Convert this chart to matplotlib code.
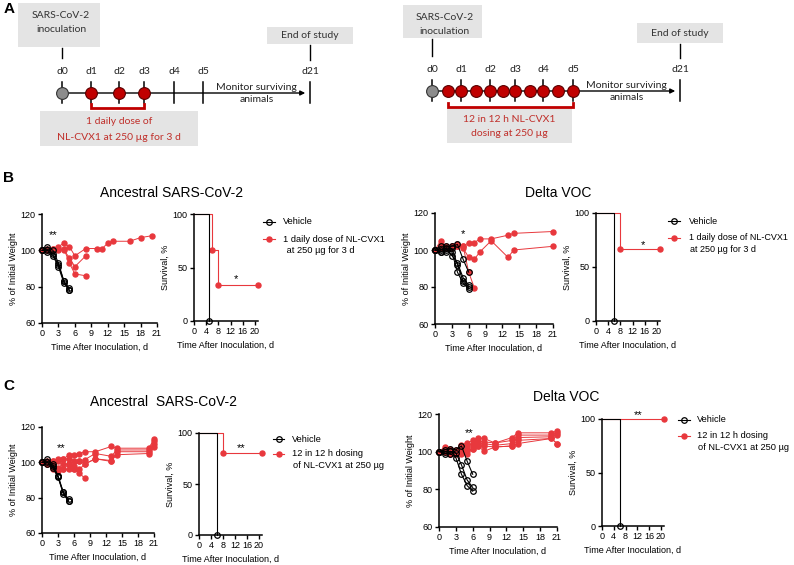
import numpy as np
import matplotlib
matplotlib.use("Agg")
import matplotlib.pyplot as plt
from matplotlib.patches import Rectangle

plt.rcParams['font.family'] = ['Liberation Sans', 'DejaVu Sans']

W, H = 794, 565
RED = '#e8383d'
DARKRED = '#c00000'
TXTRED = '#c0302b'
BOXGRAY = '#e4e4e4'

# ---------------- data ----------------
# panel A timelines
a1_labels = ['d0', 'd1', 'd2', 'd3', 'd4', 'd5', 'd21']
a2_labels = ['d0', 'd1', 'd2', 'd3', 'd4', 'd5', 'd21']

# B ancestral weight (% of initial)
b_anc_veh_days = [0, 1, 2, 3, 4, 5]
b_anc_veh = [[100, 102, 100, 93, 83, 79],
             [100, 99, 98, 92, 83, 78],
             [100, 100, 97, 91, 82, 78]]
b_anc_trt_days = [[0, 1, 2, 3, 4, 5, 6, 8, 10, 11, 12, 13, 16, 18, 20],
                  [0, 1, 2, 3, 4, 5, 6, 8],
                  [0, 1, 2, 3, 4, 5, 6, 8]]
b_anc_trt = [[100, 100, 101, 102, 104, 102, 97, 101, 101, 101, 104, 105, 105, 107, 108],
             [100, 101, 100, 101, 100, 96, 91, 97],
             [100, 100, 101, 100, 101, 93, 87, 86]]

# B delta weight
b_del_veh_days = [0, 1, 2, 3, 4, 5, 6]
b_del_veh = [[100, 102, 102, 102, 103, 95, 88],
             [100, 100, 101, 97, 93, 85, 81],
             [100, 99, 100, 99, 88, 82, 79],
             [100, 99, 99, 101, 92, 83, 80]]
b_del_trt_days = [[0, 1, 2, 3, 4, 5, 6, 7, 8, 10, 13, 14, 21],
                  [0, 1, 2, 3, 4, 5, 6, 7, 8, 10, 13, 14, 21],
                  [0, 1, 2, 3, 4, 5, 6, 7]]
b_del_trt = [[100, 105, 102, 102, 103, 102, 104, 104, 106, 106, 108, 109, 110],
             [100, 101, 101, 101, 102, 101, 96, 95, 99, 105, 96, 100, 102],
             [100, 102, 101, 102, 102, 102, 88, 79.5]]

# C ancestral weight
c_anc_veh_days = [0, 1, 2, 3, 4, 5]
c_anc_veh = [[100, 102, 99, 92.5, 83, 79],
             [100, 100, 97, 91.5, 83, 78],
             [100, 99, 98, 92, 82, 78]]
c_trt_days_full = [0, 1, 2, 3, 4, 5, 6, 7, 8, 10, 13, 14, 20, 21]
c_anc_trt_days = [c_trt_days_full, c_trt_days_full, c_trt_days_full, c_trt_days_full,
                  [0, 1, 2, 3, 4, 5, 6, 7, 8]]
c_anc_trt = [[100, 101, 101, 102, 102, 104, 104, 105, 106, 106, 109, 108, 108, 113],
             [100, 100, 101, 101, 102, 102, 101, 101, 101.5, 105, 103.4, 107, 107, 112],
             [100, 100, 99, 97, 99, 99, 98, 101, 99, 102, 100.5, 106, 106, 110.5],
             [100, 99, 97, 96, 96, 96, 96, 96, 99, 102, 101, 104.3, 105, 108.5],
             [100, 99, 96, 95, 96, 99, 96, 94, 91]]

# C delta weight
c_del_veh_days = [0, 1, 2, 3, 4, 5, 6]
c_del_veh = [[100, 101, 101.6, 101, 103, 95, 88],
             [100, 100, 100.2, 99.3, 93, 85, 81],
             [100, 99, 99, 96.8, 88, 82, 79]]
c_del_trt_days = [c_trt_days_full] * 5
c_del_trt = [[100, 102.5, 101.6, 101, 103.8, 104.6, 106, 107.3, 107, 104.6, 107.5, 110, 110, 111],
             [100, 101, 99.8, 99.8, 101.6, 103.4, 104.3, 105.7, 105.2, 104.6, 106, 108.8, 108.8, 110],
             [100, 99.8, 98.6, 98.6, 100.2, 101.6, 102.9, 104.3, 104.3, 103.4, 104.3, 107.5, 107.9, 109],
             [100, 101, 99.8, 100, 98.6, 100.2, 101.6, 103, 103, 102.5, 103, 106, 107, 104.3],
             [100, 99.8, 98.6, 99.8, 100.2, 99, 101.6, 103, 100.2, 102.5, 103, 104.3, 107, 104.3]]

# survival (%)
b_anc_surv_veh = ([0, 5], [100, 0])
b_anc_surv_trt = ([0, 6, 8, 21], [100, 66.7, 33.3, 33.3])
b_del_surv_veh = ([0, 6], [100, 0])
b_del_surv_trt = ([0, 8, 21], [100, 66.7, 66.7])
c_anc_surv_veh = ([0, 6], [100, 0])
c_anc_surv_trt = ([0, 8, 21], [100, 80, 80])
c_del_surv_veh = ([0, 6], [100, 0])
c_del_surv_trt = ([0, 21], [100, 100])

weight_xticks = [0, 3, 6, 9, 12, 15, 18, 21]
weight_yticks = [60, 80, 100, 120]
surv_xticks = [0, 4, 8, 12, 16, 20]
surv_yticks = [0, 50, 100]

# ---------------- figure ----------------
fig = plt.figure(figsize=(W / 100, H / 100), dpi=100)
ov = fig.add_axes([0, 0, 1, 1])
ov.set_xlim(0, W)
ov.set_ylim(H, 0)
ov.axis('off')


def px_axes(x0, y0, x1, y1):
    return fig.add_axes([x0 / W, 1 - y1 / H, (x1 - x0) / W, (y1 - y0) / H])


def style(ax, xt, yt, xlim, ylim):
    ax.set_xlim(*xlim)
    ax.set_ylim(*ylim)
    ax.set_xticks(xt)
    ax.set_yticks(yt)
    for s in ['top', 'right']:
        ax.spines[s].set_visible(False)
    for s in ['left', 'bottom']:
        ax.spines[s].set_linewidth(1.1)
    ax.tick_params(direction='out', length=3, width=1, labelsize=6.5, pad=1.5)
    ax.patch.set_alpha(0)


def weight_panel(rect, veh_days, veh, trt_days, trt):
    ax = px_axes(*rect)
    for d, w in zip(trt_days, trt):
        ax.plot(d, w, '-o', color=RED, lw=0.7, ms=3.6, mec=RED, clip_on=False, zorder=3)
    for w in veh:
        ax.plot(veh_days, w, '-o', color='k', lw=0.8, ms=4, mfc='none', mec='k',
                mew=0.9, clip_on=False, zorder=4)
    style(ax, weight_xticks, weight_yticks, (0, 21), (60, 120))
    ax.set_ylabel('% of Initial Weight', fontsize=6.5, labelpad=2)
    ax.set_xlabel('Time After Inoculation, d', fontsize=6.5, labelpad=3)
    return ax


def surv_panel(rect, veh, trt):
    ax = px_axes(*rect)
    ax.plot(trt[0], trt[1], color=RED, lw=0.8, drawstyle='steps-post', clip_on=False, zorder=3)
    ax.plot(trt[0][1:], trt[1][1:], 'o', color=RED, ms=3.6, clip_on=False, zorder=3)
    ax.plot(veh[0], veh[1], color='k', lw=0.8, drawstyle='steps-post', clip_on=False, zorder=4)
    ax.plot(veh[0][-1:], veh[1][-1:], 'o', ms=4, mfc='none', mec='k', mew=0.9,
            clip_on=False, zorder=5)
    style(ax, surv_xticks, surv_yticks, (0, 21), (0, 100))
    ax.set_ylabel('Survival, %', fontsize=6.5, labelpad=2)
    ax.set_xlabel('Time After Inoculation, d', fontsize=6.5, labelpad=3)
    return ax


LEG_FS = 6.7


def legend(x0, x1, tx, y_veh, y_trt, lines, fs=LEG_FS):
    ov.plot([x0, x1], [y_veh, y_veh], color='k', lw=0.8)
    ov.plot([(x0 + x1) / 2], [y_veh], 'o', ms=4, mfc='none', mec='k', mew=0.9)
    ov.text(tx, y_veh, 'Vehicle', fontsize=fs, va='center', ha='left')
    ov.plot([x0, x1], [y_trt, y_trt], color=RED, lw=0.8)
    ov.plot([(x0 + x1) / 2], [y_trt], 'o', ms=3.6, color=RED)
    ov.text(tx, y_trt, lines[0], fontsize=fs, va='center', ha='left')
    ov.text(tx + 1, y_trt + 11.5, lines[1], fontsize=fs, va='center', ha='left')


# ---------------- panel A ----------------
AF = ['Lato', 'DejaVu Sans']


def gray_box(x0, y0, x1, y1):
    ov.add_patch(Rectangle((x0, y0), x1 - x0, y1 - y0, color=BOXGRAY, lw=0, zorder=0))


def scheme(tick_x, labels, dose_x, y, box1, box2, br, dbox, dtext, mon_x):
    # inoculation box
    gray_box(*box1)
    cx = tick_x[0]
    ov.text((box1[0] + box1[2]) / 2 + 2, box1[1] + 12, 'SARS-CoV-2', family=AF,
            fontsize=7.5, ha='center', va='center', color='#333333')
    ov.text((box1[0] + box1[2]) / 2 + 2, box1[1] + 27, 'inoculation', family=AF,
            fontsize=7.5, ha='center', va='center', color='#333333')
    ov.plot([cx, cx], [box1[3] + 1, y - 35], color='k', lw=1)
    # end of study box
    gray_box(*box2)
    ov.text(tick_x[-1], (box2[1] + box2[3]) / 2, 'End of study', family=AF,
            fontsize=7.5, ha='center', va='center', color='#333333')
    ov.plot([tick_x[-1], tick_x[-1]], [box2[3] + 1, y - 33], color='k', lw=1)
    # timeline
    ov.annotate('', xy=(tick_x[-1] - 2, y), xytext=(tick_x[0], y),
                arrowprops=dict(arrowstyle='-|>', color='k', lw=1, mutation_scale=7))
    for tx, lab in zip(tick_x, labels):
        ov.plot([tx, tx], [y - 11, y + 10], color='k', lw=1.1)
        ov.text(tx, y - 22, lab, family=AF, fontsize=7.5, ha='center', va='center',
                color='#222222')
    ov.plot([tick_x[0]], [y], 'o', ms=8.5, mfc='#8c8c8c', mec='#333333', mew=0.8, zorder=5)
    ov.plot(dose_x, [y] * len(dose_x), 'o', ms=8.5, mfc=DARKRED, mec='#5a0000', mew=0.8,
            zorder=5)
    # bracket
    ov.plot([br[0], br[0], br[1], br[1]], [br[2] - 4, br[2], br[2], br[2] - 4],
            color=DARKRED, lw=2, solid_joinstyle='miter')
    gray_box(*dbox)
    cxd = (dbox[0] + dbox[2]) / 2
    ov.text(cxd, dbox[1] + 11, dtext[0], family=AF, fontsize=7.5, ha='center',
            va='center', color=TXTRED)
    ov.text(cxd, dbox[1] + 26, dtext[1], family=AF, fontsize=7.5, ha='center',
            va='center', color=TXTRED)
    ov.text(mon_x, y - 6, 'Monitor surviving', family=AF, fontsize=7.5, ha='center',
            va='center', color='#222222')
    ov.text(mon_x + 1, y + 7, 'animals', family=AF, fontsize=7.5, ha='center',
            va='center', color='#222222')


scheme([62, 91, 119, 144, 174, 203, 310], a1_labels, [91, 119, 144], 93,
       (18, 3, 100, 47), (267, 27, 353, 44), (91, 144, 108), (40, 111, 198, 146),
       ['1 daily dose of', 'NL-CVX1 at 250 µg for 3 d'], 256)
scheme([432, 461, 490, 515, 543, 573, 680], a2_labels,
       [448, 461, 476, 490, 503, 515, 530, 543, 558, 573], 91,
       (403, 5, 482, 38), (637, 23, 723, 43), (448, 573, 107), (447, 108, 572, 143),
       ['12 in 12 h NL-CVX1', 'dosing at 250 µg'], 626)

# panel letters
for lab, (x, y) in {'A': (9, 9), 'B': (9, 178), 'C': (9, 386)}.items():
    ov.text(x, y, lab, fontsize=11, fontweight='bold', ha='center', va='center')

# ---------------- panel B ----------------
weight_panel((42, 214, 157, 323), b_anc_veh_days, b_anc_veh, b_anc_trt_days, b_anc_trt)
surv_panel((194, 214, 258, 321), b_anc_surv_veh, b_anc_surv_trt)
weight_panel((435, 213, 553, 324), b_del_veh_days, b_del_veh, b_del_trt_days, b_del_trt)
surv_panel((596, 213, 660, 321), b_del_surv_veh, b_del_surv_trt)

ov.text(172, 193, 'Ancestral SARS-CoV-2', fontsize=10, ha='center', va='center')
ov.text(558, 193, 'Delta VOC', fontsize=10, ha='center', va='center')
legend(263, 275, 283, 222, 239, ['1 daily dose of NL-CVX1', ' at 250 µg for 3 d'])
legend(668, 680, 689, 221, 238, ['1 daily dose of NL-CVX1', 'at 250 µg for 3 d'], fs=6.5)
ov.text(53, 235, '**', fontsize=8, ha='center', va='center')
ov.text(236, 279, '*', fontsize=8, ha='center', va='center')
ov.text(463, 234, '*', fontsize=8, ha='center', va='center')
ov.text(643, 245, '*', fontsize=8, ha='center', va='center')

# ---------------- panel C ----------------
weight_panel((42, 427, 154, 533), c_anc_veh_days, c_anc_veh, c_anc_trt_days, c_anc_trt)
surv_panel((199, 433, 262, 535), c_anc_surv_veh, c_anc_surv_trt)
weight_panel((439, 414, 557, 527), c_del_veh_days, c_del_veh, c_del_trt_days, c_del_trt)
surv_panel((602, 419, 664, 526), c_del_surv_veh, c_del_surv_trt)

ov.text(164, 402, 'Ancestral  SARS-CoV-2', fontsize=10, ha='center', va='center')
ov.text(566, 397, 'Delta VOC', fontsize=10, ha='center', va='center')
legend(273, 284, 292, 439, 454, ['12 in 12 h dosing', 'of NL-CVX1 at 250 µg'])
legend(678, 690, 697, 420, 436, ['12 in 12 h dosing', 'of NL-CVX1 at 250 µg'])
ov.text(61, 448, '**', fontsize=8, ha='center', va='center')
ov.text(241, 448, '**', fontsize=8, ha='center', va='center')
ov.text(469, 433, '**', fontsize=8, ha='center', va='center')
ov.text(638, 415, '**', fontsize=8, ha='center', va='center')

fig.savefig('out.png', dpi=100)
